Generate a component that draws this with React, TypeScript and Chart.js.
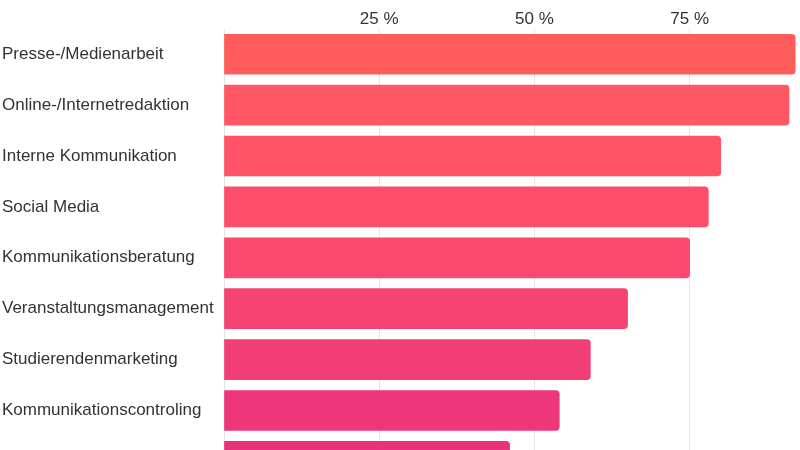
import React, { useEffect, useRef } from "react";
import { Chart, registerables } from "chart.js";

Chart.register(...registerables);

const categories: string[] = [
  "Presse-/Medienarbeit",
  "Online-/Internetredaktion",
  "Interne Kommunikation",
  "Social Media",
  "Kommunikationsberatung",
  "Veranstaltungsmanagement",
  "Studierendenmarketing",
  "Kommunikationscontroling",
  "",
];

const shares: number[] = [92, 91, 80, 78, 75, 65, 59, 54, 46];

const barColors: string[] = [
  "#FF5C5C",
  "#FF5763",
  "#FF5367",
  "#FE4D6A",
  "#F9496E",
  "#F54472",
  "#F23E76",
  "#EE377A",
  "#E9327E",
];

const tickSteps: number[] = [0, 25, 50, 75, 100];

export default function App() {
  const ref = useRef<HTMLCanvasElement | null>(null);

  useEffect(() => {
    if (!ref.current) return;
    const family = "'Liberation Sans', Arial, sans-serif";
    const chart = new Chart(ref.current, {
      type: "bar",
      data: {
        labels: categories,
        datasets: [
          {
            data: shares,
            backgroundColor: barColors,
            borderRadius: 4,
            barThickness: 40,
          },
        ],
      },
      options: {
        indexAxis: "y",
        animation: false,
        responsive: false,
        maintainAspectRatio: false,
        layout: { padding: { top: 9.8, left: 2, right: 8, bottom: 0 } },
        plugins: {
          legend: { display: false },
          tooltip: { enabled: false },
        },
        scales: {
          x: {
            position: "top",
            min: 0,
            max: 100,
            afterBuildTicks: (axis: any) => {
              axis.ticks = tickSteps.map((v) => ({ value: v }));
            },
            ticks: {
              font: { family, size: 17, lineHeight: 1 },
              color: "#333333",
              padding: 1,
              callback: (v: any) => (Number(v) === 0 ? "" : v + " %"),
            },
            grid: { color: "#e4e4e4", drawTicks: false },
            border: { display: false },
          },
          y: {
            afterFit: (axis: any) => {
              axis.width = 222;
            },
            ticks: {
              font: { family, size: 17 },
              color: "#333333",
              crossAlign: "far",
              padding: 0,
            },
            grid: { display: false, drawTicks: false },
            border: { display: false },
          },
        },
      },
    });
    return () => chart.destroy();
  }, []);

  return (
    <div
      style={{
        position: "fixed",
        left: 0,
        top: 0,
        width: 800,
        height: 450,
        overflow: "hidden",
        background: "#ffffff",
      }}
    >
      <canvas ref={ref} width={870} height={497} style={{ width: 870, height: 497, display: "block" }} />
    </div>
  );
}
